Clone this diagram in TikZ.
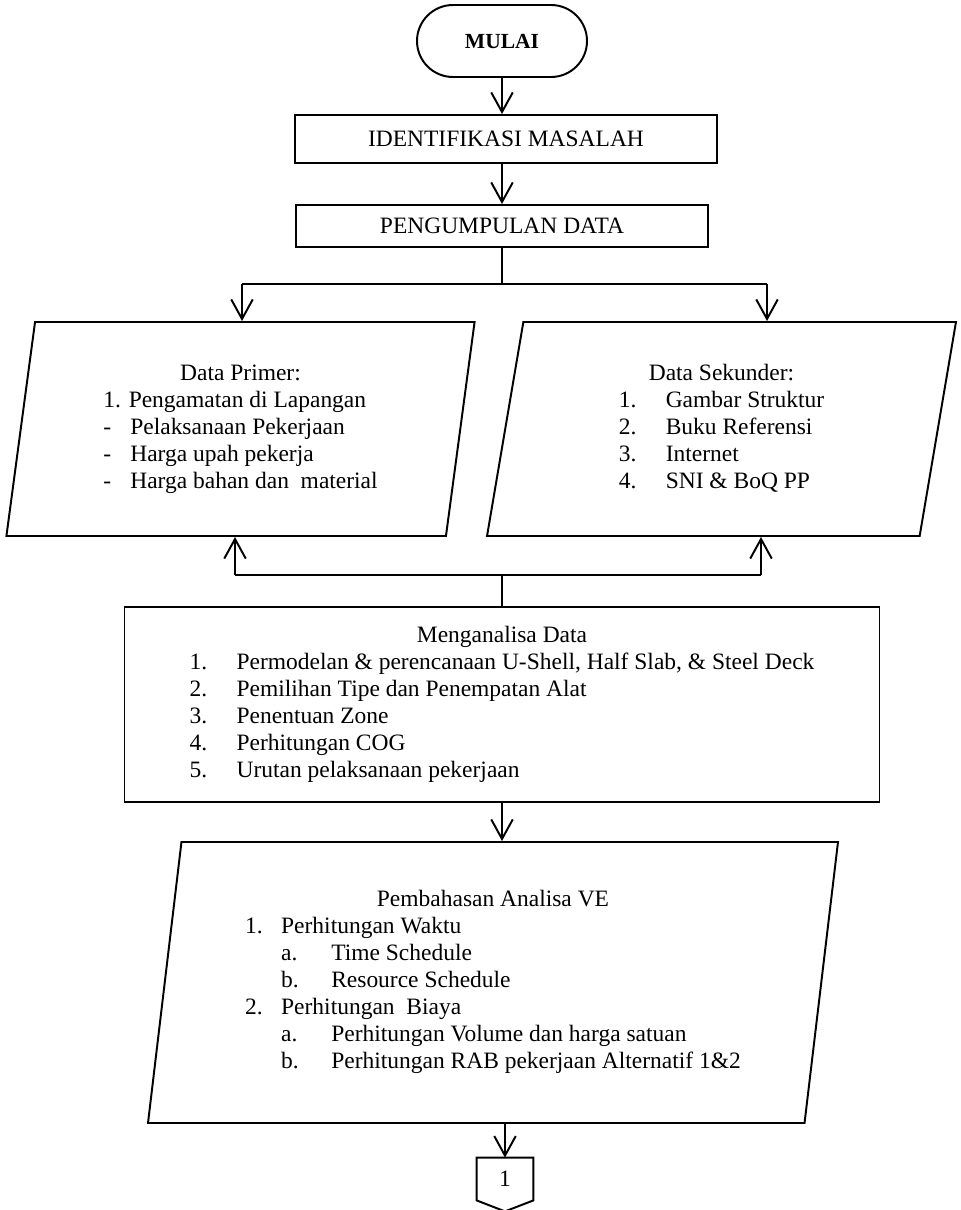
\documentclass[tikz,border=0pt]{standalone}
\usepackage{fontspec}
\setmainfont{Liberation Serif}
\usetikzlibrary{arrows.meta,shapes.geometric}
\newcommand{\px}{0.511pt}
\tikzset{
  box/.style={draw,line width=1pt,font=\fontsize{12}{13.8}\selectfont},
  term/.style={box,rounded corners=18.4pt,minimum width=170*\px,minimum height=72*\px,font=\fontsize{11}{13.8}\selectfont\bfseries},
  proc/.style 2 args={box,minimum width=#1*\px,minimum height=#2*\px},
  io/.style 2 args={box,trapezium,trapezium left angle=82.3,trapezium right angle=97.7,trapezium stretches=true,minimum width=#1*\px,minimum height=#2*\px},
  arr/.style={line width=1pt,-{Straight Barb[length=10pt,width=11pt,line width=1pt]}},
  ln/.style={line width=1pt},
  txt/.style={font=\fontsize{12}{13.8}\selectfont}
}
\begin{document}
\begin{tikzpicture}[x=\px,y=-\px]
\useasboundingbox (0,0) rectangle (960,1210);
\clip (0,0) rectangle (960,1210);
\node[term] (mulai) at (502,41) {MULAI};
\node[proc={422}{48}] (ident) at (506,139) {IDENTIFIKASI MASALAH};
\node[proc={412}{42}] (peng) at (502,226) {PENGUMPULAN DATA};
\node[io={469}{214}] (primer) at (240.5,429) {\begin{tabular}{@{}p{13.8pt}@{}l@{}}
  \multicolumn{2}{@{}c@{}}{Data Primer:}\\
  \multicolumn{2}{@{}l@{}}{1. Pengamatan di Lapangan}\\
  - & Pelaksanaan Pekerjaan\\
  - & Harga upah pekerja\\
  - & Harga bahan dan\ \ material
\end{tabular}};
\node[io={469}{214}] (sekunder) at (721.5,429) {\begin{tabular}{@{}p{24pt}@{}l@{}}
  \multicolumn{2}{@{}c@{}}{Data Sekunder:}\\
  1. & Gambar Struktur\\
  2. & Buku Referensi\\
  3. & Internet\\
  4. & SNI \& BoQ PP
\end{tabular}};
\node[proc={755}{195}] (analisa) at (502,704.5) {\begin{tabular}{@{}p{24pt}@{}l@{}}
  \multicolumn{2}{@{}c@{}}{Menganalisa Data}\\
  1. & Permodelan \& perencanaan U-Shell, Half Slab, \& Steel Deck\\
  2. & Pemilihan Tipe dan Penempatan Alat\\
  3. & Penentuan Zone\\
  4. & Perhitungan COG\\
  5. & Urutan pelaksanaan pekerjaan
\end{tabular}};
\node[io={692}{281}] (bahas) at (493,982.5) {\begin{tabular}{@{}p{18.4pt}@{}p{25.6pt}@{}l@{}}
  \multicolumn{3}{@{}c@{}}{Pembahasan Analisa VE}\\
  1. & \multicolumn{2}{@{}l@{}}{Perhitungan Waktu}\\
   & a. & Time Schedule\\
   & b. & Resource Schedule\\
  2. & \multicolumn{2}{@{}l@{}}{Perhitungan\ \ Biaya}\\
   & a. & Perhitungan Volume dan harga satuan\\
   & b. & Perhitungan RAB pekerjaan Alternatif 1\&2
\end{tabular}};
\node[txt,minimum width=56*\px,minimum height=42*\px,inner sep=0pt] (hal1) at (505,1179) {1};
\draw[ln] (hal1.north west) -- (hal1.north east) -- (hal1.south east) -- ([yshift=-11*\px]hal1.south) -- (hal1.south west) -- cycle;
\coordinate (jt) at (502,284); \coordinate (jL) at (242,284); \coordinate (jR) at (767,284);
\coordinate (jb) at (502,575); \coordinate (bL) at (235,575); \coordinate (bR) at (761,575);
\draw[arr] (mulai.south) -- (mulai.south |- ident.north);
\draw[arr] (ident.south -| peng.north) -- (peng.north);
\draw[ln] (peng.south) -- (jt); \draw[ln] (jL) -- (jR);
\draw[arr] (jL) -- (jL |- primer.north); \draw[arr] (jR) -- (jR |- sekunder.north);
\draw[ln] (analisa.north) -- (jb); \draw[ln] (bL) -- (bR);
\draw[arr] (bL) -- (bL |- primer.south); \draw[arr] (bR) -- (bR |- sekunder.south);
\draw[arr] (analisa.south) -- (analisa.south |- bahas.north);
\draw[arr] (bahas.south -| hal1.north) -- (hal1.north);
\end{tikzpicture}
\end{document}
